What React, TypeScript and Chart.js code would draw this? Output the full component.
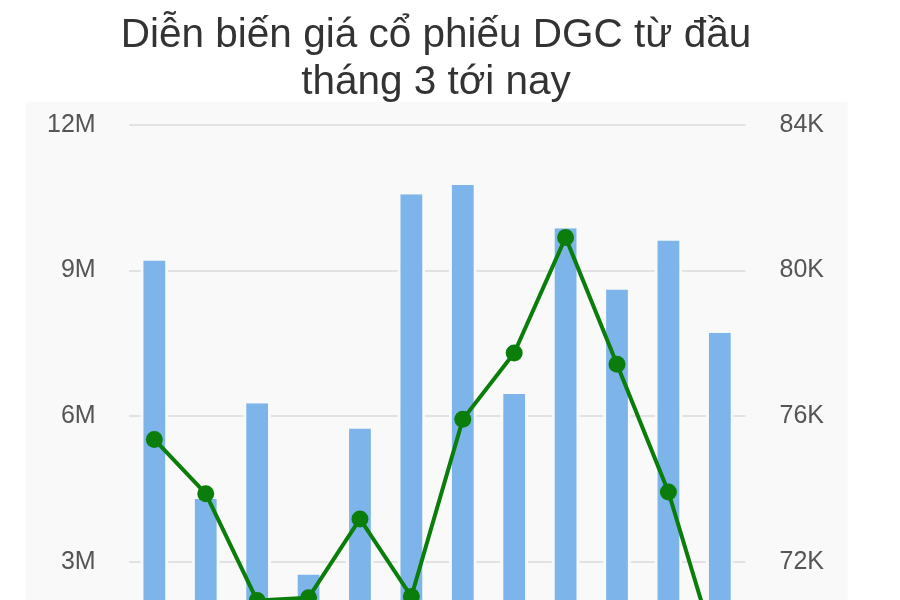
import { useEffect, useRef } from 'react';
import { Chart, registerables } from 'chart.js';

Chart.register(...registerables);

const titleLines = ['Diễn biến giá cổ phiếu DGC từ đầu', 'tháng 3 tới nay'];
const days = ['01/03', '02/03', '03/03', '04/03', '05/03', '08/03', '09/03', '10/03', '11/03', '12/03', '15/03', '16/03'];
const volume = [9.21e6, 4.3e6, 6.27e6, 2.75e6, 5.75e6, 10.57e6, 10.76e6, 6.46e6, 9.87e6, 8.61e6, 9.62e6, 7.72e6];
const price = [75370, 73880, 70950, 71030, 73190, 71060, 75920, 77740, 80910, 77430, 73930, 69240];

const fmtM = (v: number) => `${v / 1e6}M`;
const fmtK = (v: number) => `${v / 1000}K`;

// light grey panel behind the axes and plot
const panelBg = {
  id: 'panelBg',
  beforeDraw(chart: Chart) {
    const { ctx, chartArea } = chart;
    const left = chartArea.left - 103;
    const right = chartArea.right + 102;
    ctx.save();
    ctx.fillStyle = '#f9f9f9';
    ctx.fillRect(left, chartArea.top - 23, right - left, chart.height);
    ctx.restore();
  },
};

const ComboChart = () => {
  const chartRef = useRef<HTMLCanvasElement | null>(null);
  const chartInstance = useRef<Chart | null>(null);

  useEffect(() => {
    document.body.style.margin = '0';
    document.body.style.overflow = 'hidden';
    if (!chartRef.current) return;
    const ctx = chartRef.current.getContext('2d');
    if (!ctx) return;

    if (chartInstance.current) chartInstance.current.destroy();

    const font = "'Liberation Sans', Arial, sans-serif";

    chartInstance.current = new Chart(ctx, {
      type: 'bar',
      data: {
        labels: days,
        datasets: [
          {
            type: 'line',
            label: 'Giá',
            data: price,
            yAxisID: 'y1',
            borderColor: '#0a7d0a',
            backgroundColor: '#0a7d0a',
            borderWidth: 4,
            pointRadius: 8.5,
            pointBorderWidth: 0,
            pointBackgroundColor: '#0a7d0a',
            tension: 0,
            order: 0,
          },
          {
            type: 'bar',
            label: 'Khối lượng',
            data: volume,
            yAxisID: 'y',
            backgroundColor: '#7db5ea',
            borderColor: '#f9f9f9',
            borderWidth: { left: 3, right: 3, top: 0, bottom: 0 },
            categoryPercentage: 1,
            barPercentage: 0.54,
            order: 1,
          },
        ],
      },
      options: {
        responsive: true,
        maintainAspectRatio: false,
        animation: false,
        layout: { padding: { left: 14, right: 42, top: 0, bottom: 10 } },
        plugins: {
          legend: { display: false },
          tooltip: { enabled: false },
          title: {
            display: true,
            text: titleLines,
            color: '#333',
            font: { family: font, size: 40.5, weight: 'normal', lineHeight: 1.17 },
            padding: { top: 12, bottom: 18 },
          },
        },
        scales: {
          x: {
            grid: { display: false },
            border: { display: false },
            ticks: { color: '#555', font: { family: font, size: 20 } },
          },
          y: {
            position: 'left',
            min: 0,
            max: 12e6,
            border: { display: false },
            grid: { color: '#e2e2e2', lineWidth: 2, drawTicks: false },
            ticks: {
              stepSize: 3e6,
              padding: 33,
              color: '#555',
              font: { family: font, size: 25 },
              callback: (v) => fmtM(Number(v)),
            },
          },
          y1: {
            position: 'right',
            min: 68000,
            max: 84000,
            border: { display: false },
            grid: { drawOnChartArea: false, drawTicks: false },
            ticks: {
              stepSize: 4000,
              padding: 34,
              color: '#555',
              font: { family: font, size: 25 },
              callback: (v) => fmtK(Number(v)),
            },
          },
        },
      },
      plugins: [panelBg],
    });

    return () => {
      if (chartInstance.current) {
        chartInstance.current.destroy();
        chartInstance.current = null;
      }
    };
  }, []);

  return (
    <div style={{ width: 900, height: 600, overflow: 'hidden' }}>
      <div style={{ position: 'relative', width: 900, height: 780 }}>
        <canvas ref={chartRef} />
      </div>
    </div>
  );
};

export default function App() {
  return <ComboChart />;
}
